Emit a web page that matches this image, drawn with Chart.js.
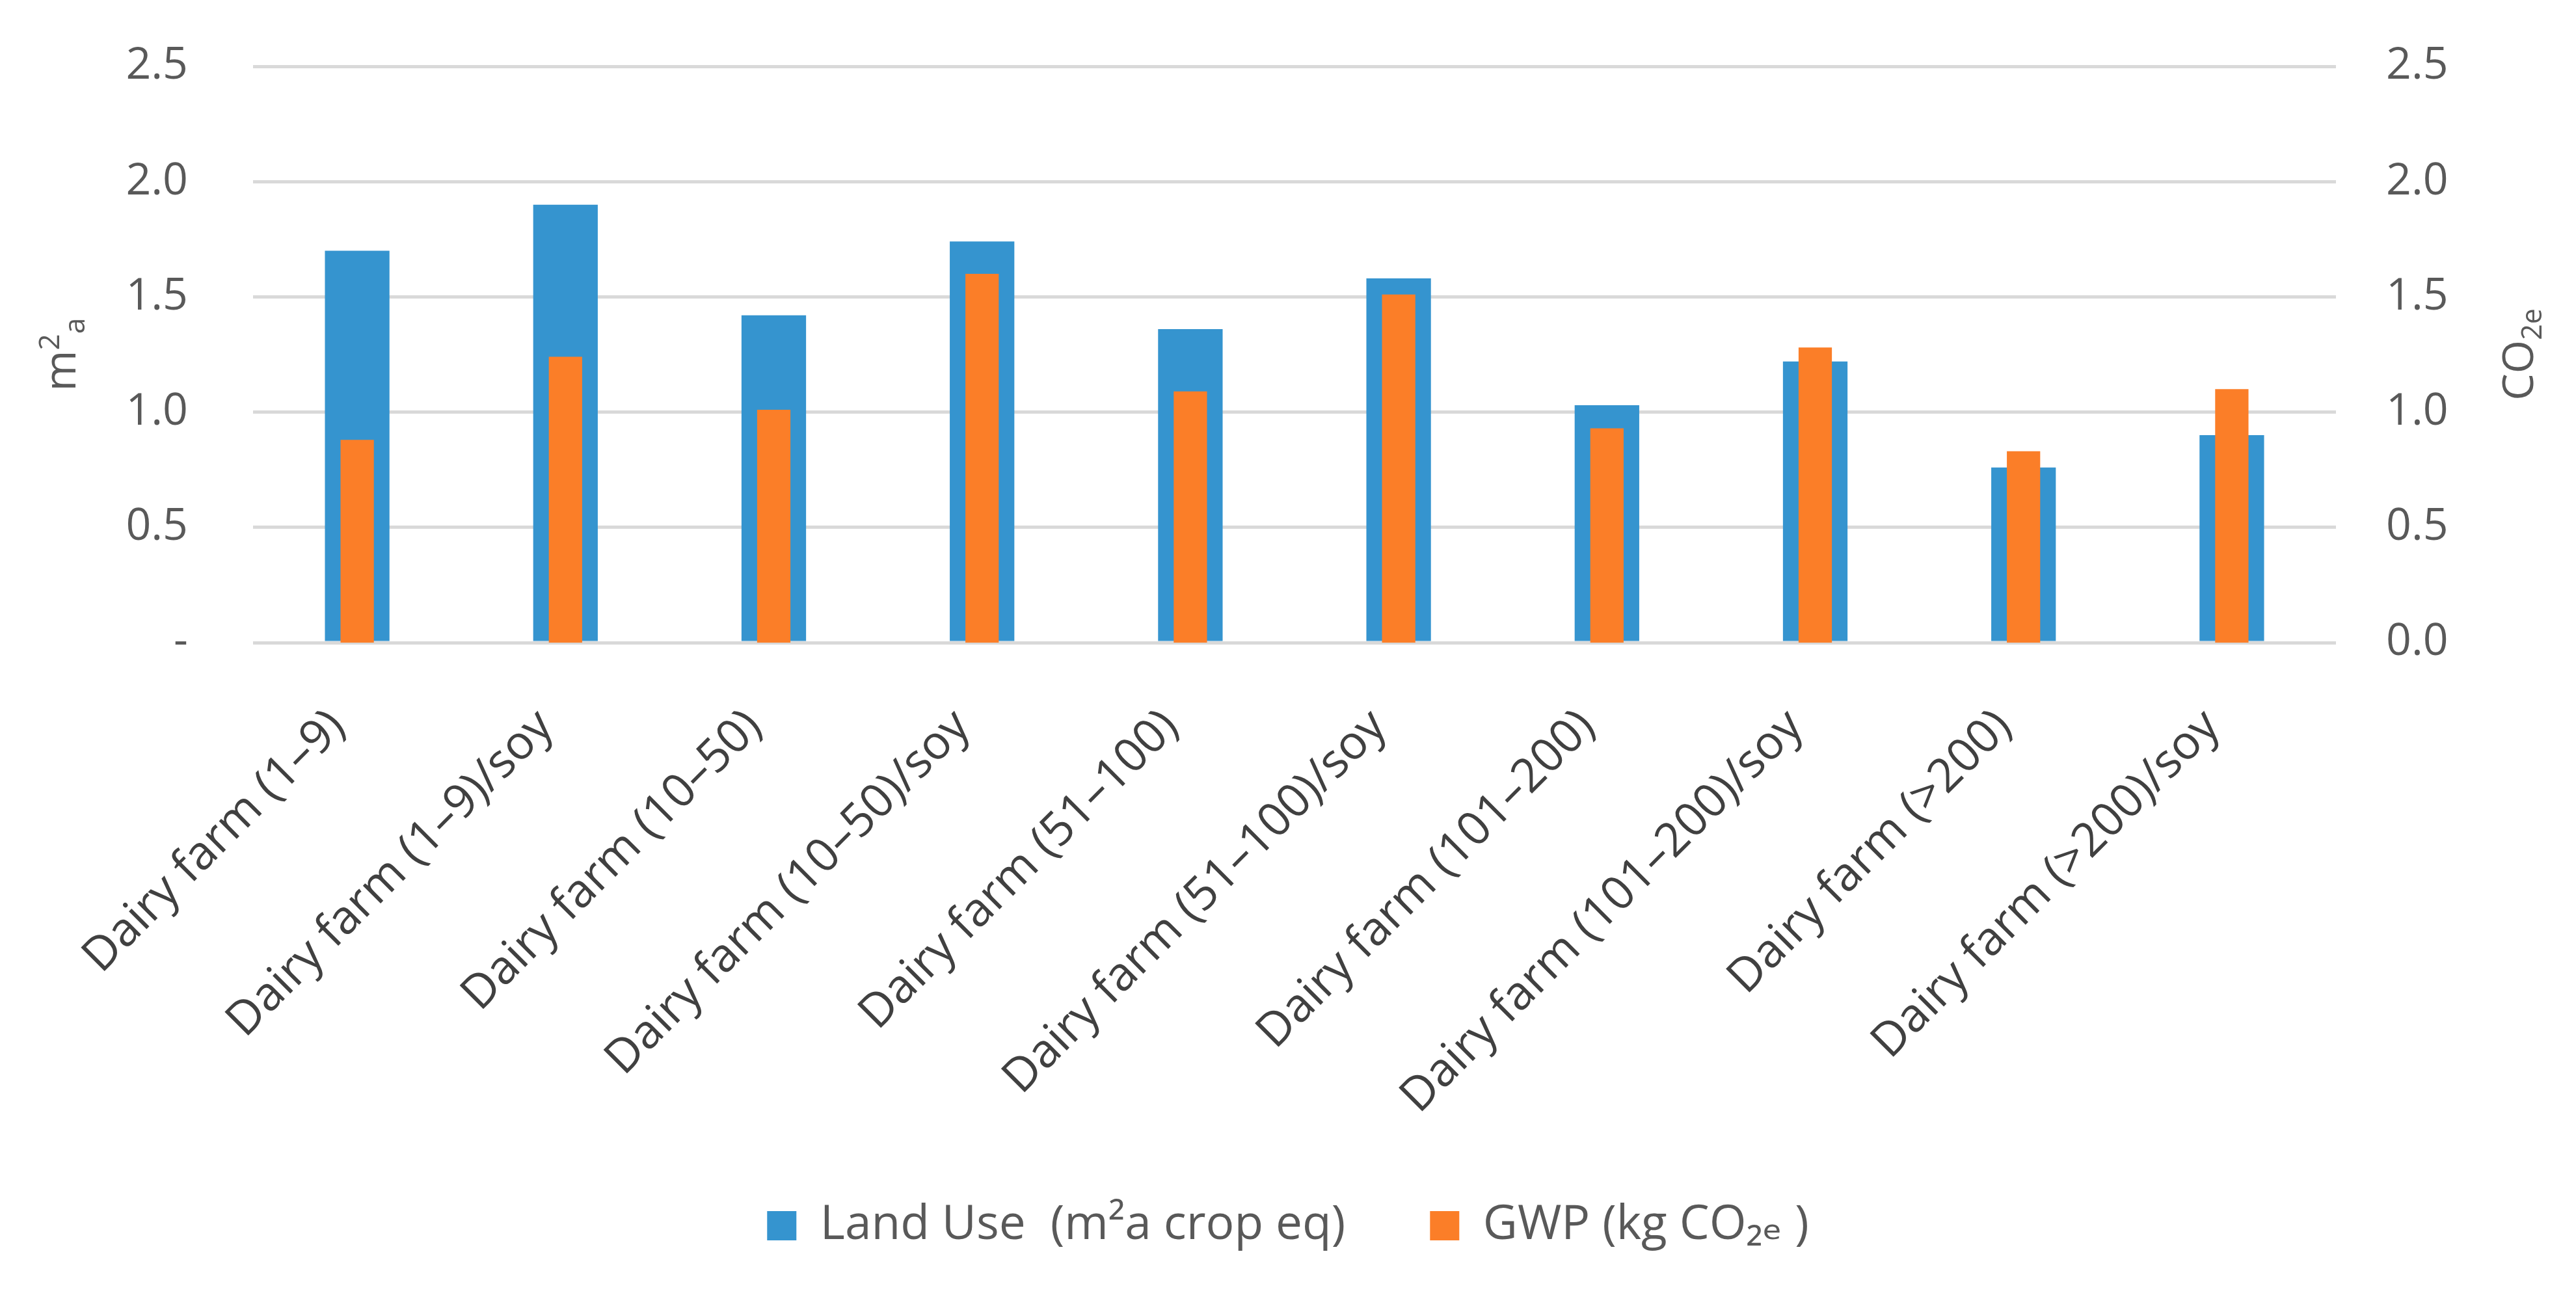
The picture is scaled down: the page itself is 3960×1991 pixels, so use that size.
<!DOCTYPE html>
<html lang="en">
<head>
    <meta charset="UTF-8">
    <title>Land use and GWP per dairy farm size</title>
    <script src="https://cdn.jsdelivr.net/npm/chart.js"></script>
    <style>
        body { margin: 0; background: #fff; }
        #wrap { width: 3960px; height: 1991px; }
    </style>
</head>
<body>
    <div id="wrap"><canvas id="farmChart"></canvas></div>

    <script>
        // data
        const categories = [
            "Dairy farm (1\u20139)", "Dairy farm (1\u20139)/soy",
            "Dairy farm (10\u201350)", "Dairy farm (10\u201350)/soy",
            "Dairy farm (51\u2013100)", "Dairy farm (51\u2013100)/soy",
            "Dairy farm (101\u2013200)", "Dairy farm (101\u2013200)/soy",
            "Dairy farm (>200)", "Dairy farm (>200)/soy"
        ];
        const landUse = [1.70, 1.90, 1.42, 1.74, 1.36, 1.58, 1.03, 1.22, 0.76, 0.90];
        const gwp = [0.88, 1.24, 1.01, 1.60, 1.09, 1.51, 0.93, 1.28, 0.83, 1.10];
        const axisMin = 0;
        const axisMax = 2.5;
        const axisStep = 0.5;

        const labelFont = "'Open Sans', 'DejaVu Sans', sans-serif";
        const grey = "#595959";

        // draws rotated axis titles with sub/superscripts (right one reads bottom to top)
        function drawTitle(ctx, x, y, parts, size) {
            ctx.save();
            ctx.translate(x, y);
            ctx.rotate(-Math.PI / 2);
            ctx.fillStyle = grey;
            ctx.textBaseline = "alphabetic";
            let total = 0;
            parts.forEach(p => {
                ctx.font = (size * p.scale) + "px " + labelFont;
                p.w = ctx.measureText(p.text).width;
                total += p.w;
            });
            let cx = -total / 2;
            parts.forEach(p => {
                ctx.font = (size * p.scale) + "px " + labelFont;
                ctx.fillText(p.text, cx, size * 0.36 + p.shift * size);
                cx += p.w;
            });
            ctx.restore();
        }

        const axisTitles = {
            id: "axisTitles",
            afterDraw(chart) {
                const area = chart.chartArea;
                const cy = (area.top + area.bottom) / 2;
                drawTitle(chart.ctx, 92, cy, [
                    { text: "m", scale: 1, shift: 0 },
                    { text: "2", scale: 0.65, shift: -0.38 },
                    { text: "a", scale: 0.65, shift: 0.2 }
                ], 68);
                drawTitle(chart.ctx, 3870, cy, [
                    { text: "CO", scale: 1, shift: 0 },
                    { text: "2e", scale: 0.65, shift: 0.2 }
                ], 66);
            }
        };

        // keep the tick padding from pushing the plot area down
        function fixWidth(w) {
            return function (scale) {
                scale.width = w;
                scale.paddingTop = 0;
                scale.paddingBottom = 0;
            };
        }

        const ctx = document.getElementById("farmChart").getContext("2d");
        new Chart(ctx, {
            type: "bar",
            data: {
                labels: categories,
                datasets: [
                    {
                        label: "Land Use  (m\u00b2a crop eq)",
                        data: landUse,
                        backgroundColor: "#3594cf",
                        yAxisID: "y",
                        grouped: false,
                        order: 1,
                        categoryPercentage: 1,
                        barPercentage: 0.31
                    },
                    {
                        label: "GWP (kg CO\u2082\u2091 )",
                        data: gwp,
                        backgroundColor: "#fb7e28",
                        yAxisID: "y2",
                        grouped: false,
                        order: 0,
                        categoryPercentage: 1,
                        barPercentage: 0.16
                    }
                ]
            },
            options: {
                responsive: true,
                maintainAspectRatio: false,
                animation: false,
                devicePixelRatio: 1,
                layout: { padding: { top: 102, bottom: 60, left: 0, right: 0 } },
                plugins: {
                    tooltip: { enabled: false },
                    legend: {
                        position: "bottom",
                        labels: {
                            font: { family: labelFont, size: 73 },
                            color: grey,
                            boxWidth: 45,
                            boxHeight: 45,
                            padding: 130,
                            sort: (a, b) => a.datasetIndex - b.datasetIndex
                        }
                    }
                },
                scales: {
                    x: {
                        grid: { display: false },
                        border: { display: false },
                        ticks: {
                            minRotation: 45,
                            maxRotation: 45,
                            padding: 79,
                            labelOffset: -30,
                            color: "#404040",
                            font: { family: labelFont, size: 72 }
                        },
                        afterFit(scale) { scale.height = 730; }
                    },
                    y: {
                        position: "left",
                        min: axisMin,
                        max: axisMax,
                        grid: { color: "#d9d9d9", lineWidth: 5, drawTicks: false },
                        border: { display: false },
                        ticks: {
                            stepSize: axisStep,
                            padding: 100,
                            color: grey,
                            font: { family: labelFont, size: 68 },
                            callback: v => v === 0 ? "-" : v.toFixed(1)
                        },
                        afterFit: fixWidth(389)
                    },
                    y2: {
                        position: "right",
                        min: axisMin,
                        max: axisMax,
                        grid: { display: false, drawTicks: false },
                        border: { display: false },
                        ticks: {
                            stepSize: axisStep,
                            padding: 77,
                            color: grey,
                            font: { family: labelFont, size: 68 },
                            callback: v => v.toFixed(1)
                        },
                        afterFit: fixWidth(369)
                    }
                }
            },
            plugins: [axisTitles]
        });
    </script>
</body>
</html>
